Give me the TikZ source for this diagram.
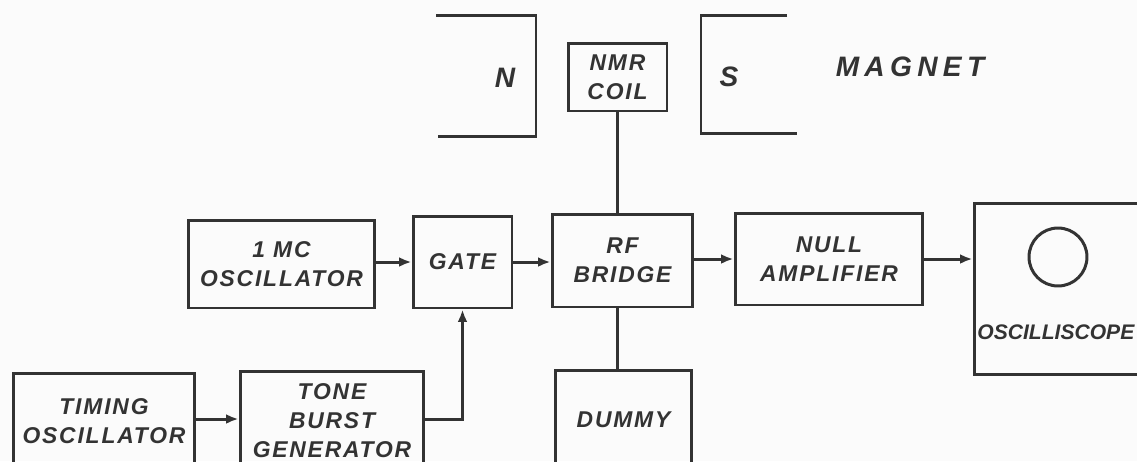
\documentclass[tikz,border=0pt]{standalone}
\usepackage{fontspec}
\setmainfont{Liberation Sans}
\newfontfamily\handfont[LetterSpace=8]{Liberation Sans Bold Italic}
\newfontfamily\widefont[LetterSpace=19]{Liberation Sans Bold Italic}
\newfontfamily\tightfont{Liberation Sans Bold Italic}
\usepackage{xcolor}
\usepackage{tikz}
\usetikzlibrary{positioning, arrows.meta, calc}
\definecolor{inkgray}{HTML}{333333}
\definecolor{paper}{HTML}{FBFBFB}

\tikzset{
  blockbox/.style={draw=inkgray, line width=1.7pt, align=center, inner sep=0pt,
                   font=\handfont\fontsize{13}{16.5}\selectfont, text=inkgray},
  wire/.style={draw=inkgray, line width=1.7pt},
  feed/.style={wire, -{Latex[length=7pt, width=5.5pt]}},
  tag/.style={font=\handfont\fontsize{13}{16.5}\selectfont, text=inkgray}
}

\begin{document}
\begin{tikzpicture}[x=0.02cm, y=-0.02cm]
  \fill[paper] (0,0) rectangle (1137,461);
  \useasboundingbox (0,0) rectangle (1137,461);
  \clip (0,0) rectangle (1137,461);

  % magnet poles
  \draw[wire] (436,15) -- (536,15) -- (536,136) -- (438,136);
  \draw[wire] (787,15) -- (701,15) -- (701,133) -- (797,133);
  \node[tag, font=\handfont\fontsize{16}{18}\selectfont] (pn) at (505,78) {N};
  \node[tag, font=\handfont\fontsize{16}{18}\selectfont] (ps) at (729,77) {S};
  \node[tag, font=\widefont\fontsize{16}{18}\selectfont] (magnet) at (910,67) {MAGNET};

  % blocks
  \node[blockbox, minimum width=1.98cm, minimum height=1.36cm] (coil) at (617.5,77) {NMR\\COIL};
  \node[blockbox, minimum width=3.74cm, minimum height=1.76cm] (onemc) at (281.5,264) {1 MC\\OSCILLATOR};
  \node[blockbox, minimum width=1.98cm, minimum height=1.84cm] (gate) at (462.5,262) {GATE};
  \node[blockbox, minimum width=2.82cm, minimum height=1.86cm] (rfb) at (622.5,260.5) {RF\\BRIDGE};
  \node[blockbox, minimum width=3.76cm, minimum height=1.84cm] (null) at (829,259) {NULL\\AMPLIFIER};
  \node[blockbox, minimum width=3.72cm, minimum height=3.44cm] (scope) at (1067,289) {};
  \node[blockbox, minimum width=3.64cm, minimum height=1.94cm] (timing) at (104,421.5) {TIMING\\OSCILLATOR};
  \node[blockbox, minimum width=3.68cm, minimum height=1.98cm] (tone) at (332,420.5) {TONE\\BURST\\GENERATOR};
  \node[blockbox, minimum width=2.74cm, minimum height=2.0cm] (dummy) at (623.5,420) {DUMMY};

  % scope face
  \node[draw=inkgray, line width=1.7pt, circle, minimum size=1.16cm, inner sep=0pt] (screen) at (1058,257) {};
  \node[tag, font=\tightfont\fontsize{12}{14}\selectfont, anchor=west, inner sep=0pt] (scopelbl) at (977,332) {OSCILLISCOPE};

  % connections
  \draw[wire] (coil.south) -- (coil.south |- rfb.north);
  \draw[wire] (coil.south |- rfb.south) -- (coil.south |- dummy.north);
  \draw[feed] (onemc.east |- gate.west) -- (gate.west);
  \draw[feed] (gate.east) -- (rfb.west |- gate.east);
  \draw[feed] (rfb.east |- null.west) -- (null.west);
  \draw[feed] (null.east) -- (scope.west |- null.east);
  \draw[feed] (timing.east |- 0,419) -- (tone.west |- 0,419);
  \draw[feed] (tone.east |- 0,419) -| (gate.south);
\end{tikzpicture}
\end{document}
